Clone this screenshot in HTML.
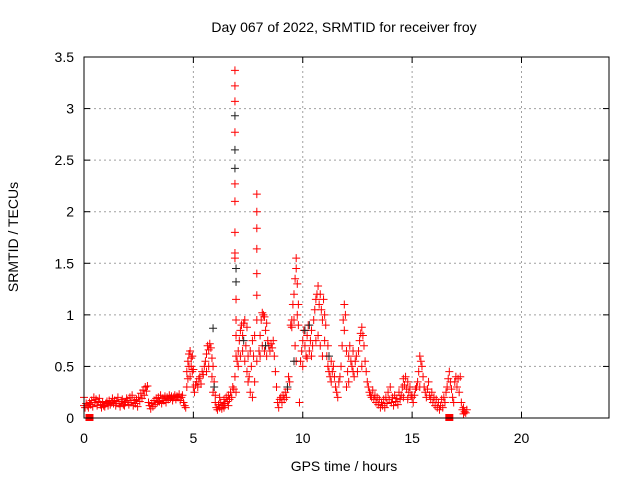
<!DOCTYPE html>
<html><head><meta charset="utf-8"><style>
body{margin:0;background:#fff}
svg{display:block;font-family:"Liberation Sans",sans-serif;font-size:14px}
</style></head><body>
<svg id="chart" width="640" height="480" viewBox="0 0 640 480">
<rect width="640" height="480" fill="#fff"/>
<text x="344" y="32" text-anchor="middle">Day 067 of 2022, SRMTID for receiver froy</text>
<text x="344" y="471" text-anchor="middle">GPS time / hours</text>
<text transform="translate(18,237) rotate(-90)" text-anchor="middle">SRMTID / TECUs</text>
<g id="grid"></g>
<g id="ticks"></g>
<g id="marks"></g>
<rect x="84" y="57" width="525" height="361" fill="none" stroke="#000" stroke-width="1"/>
</svg>
<script>
const xTicks=[0,5,10,15,20];
const yTicks=[0,0.5,1,1.5,2,2.5,3,3.5];
const yTickLabels=["0","0.5","1","1.5","2","2.5","3","3.5"];
const flagHours=[0.25,16.7];
const blackPoints=[[5.9,0.87],[6.9,2.93],[6.9,2.6],[6.9,2.42],[6.95,1.45],[6.95,1.32],[9.3,0.3],[10.1,0.85],[10.3,0.9],[9.6,0.55],[7.3,0.75],[5.95,0.3],[11.2,0.6],[8.3,0.7]];
const redPoints=[[0,.2],[0,.12],[.05,.1],[.1,.14],[.15,.12],[.2,.1],[.25,.15],[.3,.13],[.35,.17],[.4,.11],[.45,.2],[.5,.15],[.55,.18],[.6,.12],[.65,.16],[.7,.19],[.75,.13],[.8,.1],[.85,.15],[.9,.12],[.95,.11],[1,.14],[1.05,.16],[1.1,.12],[1.15,.17],[1.2,.13],[1.25,.15],[1.3,.19],[1.35,.14],[1.4,.17],[1.45,.12],[1.5,.16],[1.55,.2],[1.6,.14],[1.65,.11],[1.7,.16],[1.75,.18],[1.8,.13],[1.85,.12],[1.9,.15],[1.95,.19],[2,.17],[2.05,.13],[2.1,.2],[2.15,.15],[2.2,.22],[2.25,.12],[2.3,.17],[2.35,.14],[2.4,.18],[2.45,.11],[2.5,.2],[2.55,.16],[2.6,.24],[2.65,.19],[2.7,.27],[2.75,.22],[2.8,.3],[2.85,.26],[2.9,.31],[2.95,.15],[3,.12],[3.05,.09],[3.1,.14],[3.15,.11],[3.2,.17],[3.25,.13],[3.3,.19],[3.35,.15],[3.4,.2],[3.45,.16],[3.5,.22],[3.55,.14],[3.6,.19],[3.65,.17],[3.7,.21],[3.75,.15],[3.8,.2],[3.85,.18],[3.9,.22],[3.95,.19],[4,.21],[4.05,.17],[4.1,.2],[4.15,.22],[4.2,.18],[4.25,.21],[4.3,.2],[4.35,.23],[4.4,.17],[4.45,.2],[4.5,.22],[4.55,.15],[4.6,.12],[4.65,.1],
[4.7,.3],[4.7,.45],[4.75,.38],[4.75,.55],[4.8,.5],[4.8,.62],[4.85,.4],[4.85,.65],[4.9,.5],[4.9,.58],[4.95,.45],[4.95,.6],[5,.47],[5,.3],[5.05,.25],
[5.1,.32],[5.15,.35],[5.2,.3],[5.25,.38],[5.3,.4],[5.35,.33],[5.4,.45],[5.45,.42],[5.5,.5],
[5.55,.55],[5.6,.62],[5.65,.7],[5.7,.66],[5.75,.72],[5.8,.68],[5.85,.58],[5.9,.5],[5.6,.45],[5.7,.5],[5.85,.4],[5.9,.25],[5.95,.35],
[6,.15],[6.05,.1],[6.1,.08],[6.15,.13],[6.2,.1],[6.25,.15],[6.3,.09],[6.35,.12],[6.4,.18],[6.45,.14],[6.5,.2],[6.55,.16],[6.6,.22],[6.65,.18],[6.7,.25],[6.75,.2],[6.8,.3],[6.85,.28],[6.0,.22],[6.2,.2],[6.4,.1],[6.6,.12],
[6.9,3.37],[6.9,3.22],[6.9,3.07],[6.9,2.77],[6.9,2.27],[6.9,2.1],[6.9,1.8],[6.9,1.6],[6.9,1.55],[6.95,1.15],[6.95,.95],[6.95,.8],[6.95,.6],[6.9,.4],[6.95,.25],
[7,.55],[7.05,.65],[7.1,.75],[7.15,.85],[7.2,.9],[7.25,.8],[7.3,.92],[7.35,.95],[7.4,.7],[7.45,.88],[7.5,.6],[7.05,.5],[7.15,.6],[7.25,.65],[7.35,.55],[7.45,.45],[7.5,.35],[7.55,.4],
[7.6,.25],[7.6,.65],[7.65,.5],[7.7,.2],[7.7,.75],[7.75,.6],[7.8,.35],[7.8,.8],
[7.9,2.17],[7.9,2.0],[7.9,1.84],[7.9,1.64],[7.9,1.4],[7.9,1.19],[7.9,.95],[7.9,.55],
[8,.65],[8.05,.8],[8.1,.95],[8.15,1.02],[8.2,1.0],[8.25,.98],[8.3,.85],[8.35,.92],[8.4,.75],[8.05,.6],[8.15,.7],[8.25,.65],[8.35,.6],
[8.45,.7],[8.5,.65],[8.55,.72],[8.6,.68],[8.65,.75],[8.7,.6],[8.75,.45],[8.8,.3],
[8.85,.15],[8.9,.1],[8.95,.18],[9,.2],[9.05,.15],[9.1,.22],[9.15,.18],[9.2,.25],[9.25,.2],[9.3,.28],[9.35,.4],[9.4,.35],
[9.45,.9],[9.5,.95],[9.55,1.1],[9.6,1.2],[9.65,1.35],[9.7,1.55],[9.7,1.45],[9.75,1.3],[9.8,1.1],[9.5,.88],[9.6,.95],[9.75,1.0],[9.8,.9],[9.85,.15],[9.65,.7],[9.7,.55],
[9.9,.55],[9.95,.65],[10,.75],[10.05,.85],[10.1,.7],[10.15,.6],[10.2,.8],[10.25,.9],[10.3,.65],[10.35,.75],[10.4,.85],[10.45,.7],[10.5,.95],[10.0,.5],[10.2,.58],[10.4,.6],
[10.55,1.05],[10.6,1.15],[10.65,1.2],[10.7,1.28],[10.75,1.1],[10.8,1.2],[10.85,1.05],[10.9,.95],[10.95,1.15],[11,1.0],[10.6,.75],[10.7,.8],[10.8,.7],[10.9,.6],[11,.75],[11.05,.9],
[11.1,.6],[11.15,.5],[11.2,.45],[11.25,.4],[11.3,.35],[11.35,.45],[11.4,.5],[11.45,.4],[11.5,.3],[11.15,.7],[11.3,.55],
[11.55,.25],[11.6,.2],[11.65,.35],[11.7,.4],[11.75,.5],[11.8,.7],[11.85,.95],[11.9,1.1],[11.95,1.0],[11.9,.85],[12,.65],[12,.3],
[12.05,.45],[12.1,.6],[12.15,.7],[12.2,.55],[12.25,.5],[12.3,.65],[12.35,.4],[12.4,.55],[12.45,.6],[12.5,.45],[12.1,.35],[12.3,.45],
[12.55,.65],[12.6,.75],[12.65,.82],[12.7,.88],[12.75,.8],[12.8,.7],[12.85,.55],[12.9,.45],[12.95,.35],[13,.3],[12.7,.5],
[13.05,.25],[13.1,.22],[13.15,.2],[13.2,.27],[13.25,.18],[13.3,.22],[13.35,.15],[13.4,.2],[13.45,.13],[13.5,.18],
[13.55,.1],[13.6,.15],[13.65,.12],[13.7,.18],[13.75,.1],[13.8,.2],[13.85,.14],[13.9,.25],[13.95,.18],[14,.3],[14.05,.15],[14.1,.2],[14.15,.12],[14.2,.22],[14.25,.16],[14.3,.19],[14.35,.13],[14.4,.25],[14.45,.18],[14.5,.22],
[14.55,.3],[14.6,.38],[14.65,.32],[14.7,.4],[14.75,.28],[14.8,.35],[14.85,.25],[14.9,.3],[14.95,.22],[15,.2],[15.05,.15],[15.1,.22],[15.15,.28],[15.2,.3],[14.6,.2],[14.8,.18],
[15.25,.35],[15.3,.45],[15.35,.6],[15.4,.55],[15.45,.5],[15.5,.4],[15.35,.3],
[15.55,.3],[15.6,.25],[15.65,.2],[15.7,.28],[15.75,.35],[15.8,.22],[15.85,.18],[15.9,.25],[15.95,.15],[16,.2],[16.05,.12],[16.1,.18],[16.15,.1],[16.2,.15],[16.25,.08],[16.3,.12],[16.35,.18],[16.4,.1],[16.45,.2],[16.5,.15],[16.55,.25],
[16.6,.3],[16.65,.38],[16.7,.45],[16.75,.35],[16.8,.28],[16.85,.2],[16.9,.15],[16.95,.35],[17,.4],[17.05,.3],[17.1,.38],[17.15,.25],[17.2,.4],[17.25,.15],[17.3,.08],[17.35,.1],[17.4,.06],[17.45,.05],[17.5,.08],[17.35,.04]];

const NS="http://www.w3.org/2000/svg";
const X0=84,X1=609,Y0=418,Y1=57,XMAX=24,YMAX=3.5;
function xs(t){return X0+t/XMAX*(X1-X0);}
function ys(v){return Y0-v/YMAX*(Y0-Y1);}
function mk(tag,attrs,parent){const e=document.createElementNS(NS,tag);for(const k in attrs)e.setAttribute(k,attrs[k]);parent.appendChild(e);return e;}
const grid=document.getElementById('grid'),ticks=document.getElementById('ticks'),marks=document.getElementById('marks');
yTicks.forEach((v,i)=>{
  const y=ys(v);
  if(i>0&&i<yTicks.length-1){
    const g=mk('line',{x1:X0,x2:X1,y1:y,y2:y,stroke:'#a0a0a0','stroke-dasharray':'2,3'},grid);
    
    
  }
  mk('line',{x1:X0,x2:X0+6,y1:y,y2:y,stroke:'#000'},ticks);
  mk('line',{x1:X1,x2:X1-6,y1:y,y2:y,stroke:'#000'},ticks);
  const t=mk('text',{x:X0-10,y:y+5,'text-anchor':'end'},ticks);
  t.textContent=yTickLabels[i];
  
  
});
xTicks.forEach((v,i)=>{
  const x=xs(v);
  if(i>0){
    const g=mk('line',{x1:x,x2:x,y1:Y0,y2:Y1,stroke:'#a0a0a0','stroke-dasharray':'2,3'},grid);
    
    
  }
  mk('line',{x1:x,x2:x,y1:Y0,y2:Y0-6,stroke:'#000'},ticks);
  mk('line',{x1:x,x2:x,y1:Y1,y2:Y1+6,stroke:'#000'},ticks);
  const t=mk('text',{x:x,y:Y0+25,'text-anchor':'middle'},ticks);
  t.textContent=String(v);
  
  
});
function plus(t,v,color,name){
  const x=xs(t),y=ys(v);
  const p=mk('path',{d:`M${x-4},${y}h8M${x},${y-4}v8`,stroke:color,'stroke-width':1,fill:'none'},marks);
  
  
}
redPoints.forEach(p=>plus(p[0],p[1],'#ff0000','srmtid-point'));
blackPoints.forEach(p=>plus(p[0],p[1],'#202020','srmtid-point-alt'));
flagHours.forEach(h=>{
  const r=mk('rect',{x:xs(h)-4,y:ys(0)-4,width:8,height:7,fill:'#ff0000'},marks);
  
  
});
</script>
</body></html>
